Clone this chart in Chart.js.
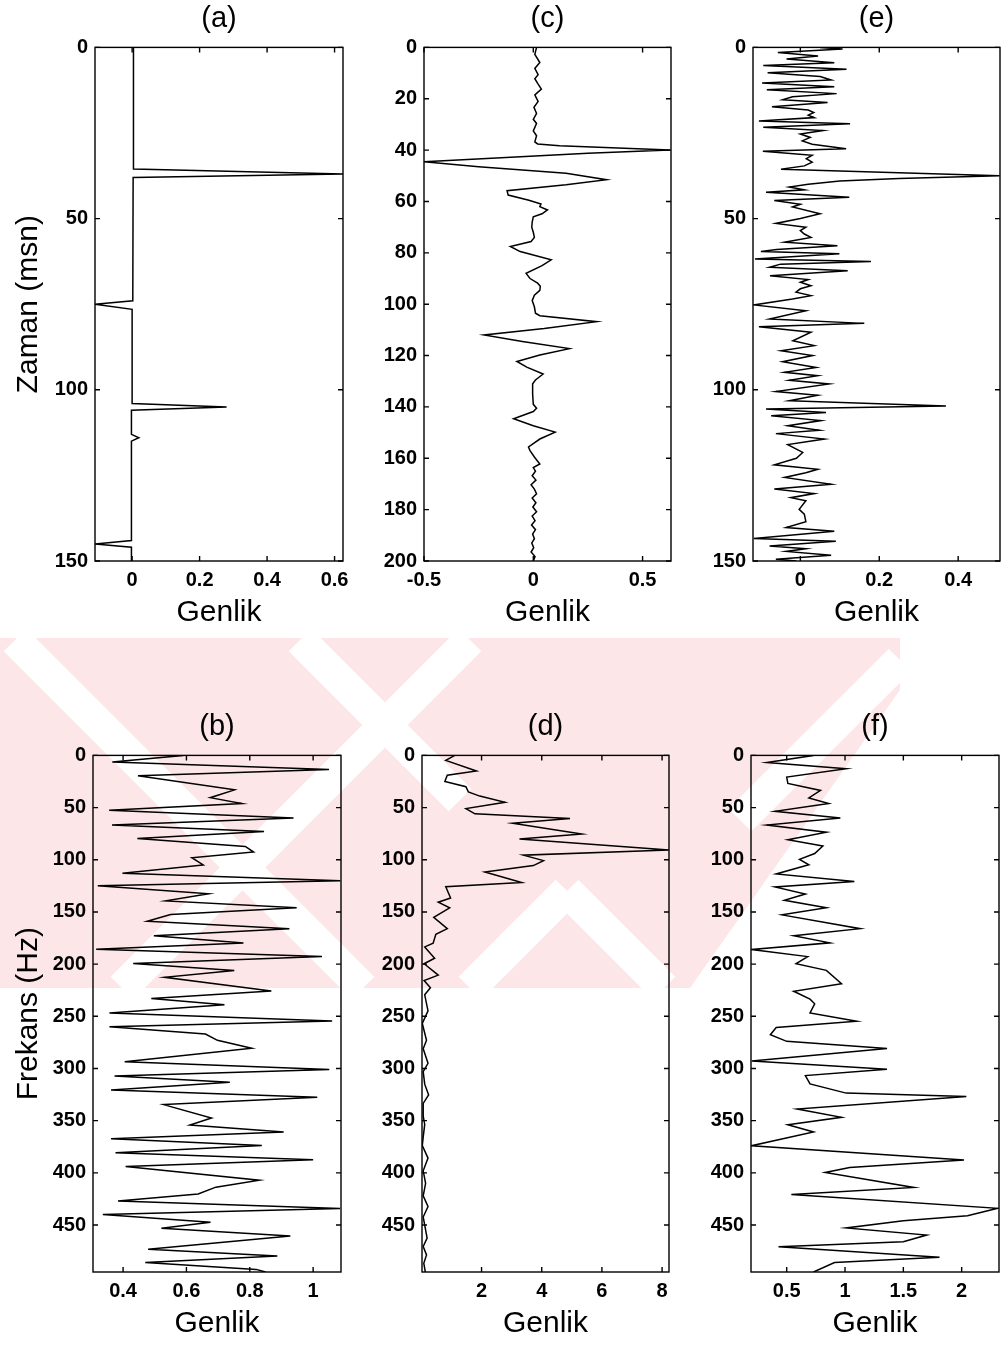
<!DOCTYPE html>
<html>
<head>
<meta charset="utf-8">
<script src="https://cdn.jsdelivr.net/npm/chart.js@4.4.1/dist/chart.umd.min.js"></script>
<style>
  body { margin: 0; background: #fff; }
  #page { position: relative; width: 1008px; height: 1346px; overflow: hidden; background: #fff; }
  #wm { position: absolute; left: 0; top: 0; }
  canvas { position: absolute; }
</style>
</head>
<body>
<div id="page">
  <svg id="wm" width="1008" height="1346">
    <defs>
      <clipPath id="wmClip"><polygon points="0,638 900,638 900,690 690,988 0,988"/></clipPath>
    </defs>
    <g clip-path="url(#wmClip)">
      <rect x="0" y="638" width="900" height="350" fill="#fce6e8"/>
      <g stroke="#fff" stroke-width="32">
        <line x1="15" y1="640" x2="363" y2="988"/>
        <line x1="470" y1="640" x2="122" y2="988"/>
        <line x1="567" y1="891" x2="470" y2="988"/>
        <line x1="567" y1="891" x2="664" y2="988"/>
        <line x1="300" y1="640" x2="460" y2="800"/>
        <line x1="900" y1="660" x2="740" y2="820"/>
      </g>
    </g>
  </svg>
  <canvas id="cA"></canvas>
  <canvas id="cC"></canvas>
  <canvas id="cE"></canvas>
  <canvas id="cB"></canvas>
  <canvas id="cD"></canvas>
  <canvas id="cF"></canvas>
</div>
<script>
// (a) yansıma katsayıları
const zamanA = [0, 35.5, 37, 38, 74, 75, 76.5, 104, 105, 106, 113, 114, 115, 144, 145, 146, 150];
const genlikA = [0.004, 0.004, 0.625, 0.003, 0.002, -0.11, 0.0, 0.0, 0.28, -0.002, -0.002, 0.02, -0.002, -0.002, -0.11, -0.002, -0.002];

// (c) dalgacık
const zamanC = [0, 2.7, 5.9, 8.2, 10.6, 12.2, 14, 16.2, 18.5, 21,
  23.3, 25.7, 28, 29.6, 32.5, 34.4, 36.8, 37.6, 38.3, 40,
  41.2, 44.5, 46.5, 49, 51.5, 53.5, 55.8, 57.5, 59.5, 61,
  62, 63.3, 64.8, 66, 68, 70, 72, 74, 75.6, 77.5,
  79.5, 82.7, 85, 88, 90, 91.8, 93, 94.6, 96.5, 98.6,
  101, 103.5, 104.5, 106.8, 109.5, 112, 114.5, 117.3, 119.8, 122.3,
  124.5, 127.2, 129.5, 131, 135, 139, 140.5, 141.8, 144.6, 147.3,
  149.8, 152.5, 155.6, 157, 159.5, 162.2, 163.6, 165, 166.8, 168.5,
  170.3, 172, 173.8, 175.5, 177.3, 179, 180.8, 182.5, 184.3, 186,
  187.8, 189.5, 191.3, 193, 194.8, 196.5, 198.3, 200];
const genlikC = [0.015, 0.007, 0.03, 0.007, 0.022, 0.007, 0.02, 0.037, 0.007, 0.022,
  0.003, 0.015, 0.0, 0.015, 0.0, 0.015, 0.007, 0.02, 0.12, 0.625,
  0.25, -0.5, -0.25, 0.15, 0.335, 0.15, -0.12, -0.115, -0.02, 0.035,
  0.03, 0.065, 0.04, 0.0, -0.005, -0.007, 0.0, 0.005, -0.01, -0.105,
  -0.06, 0.082, 0.04, -0.033, -0.015, 0.02, 0.032, 0.03, 0.005, -0.005,
  0.005, 0.01, 0.03, 0.29, 0.05, -0.225, -0.05, 0.165, 0.03, -0.075,
  -0.03, 0.045, 0.01, -0.003, -0.003, 0.0, 0.015, 0.0, -0.09, 0.0,
  0.1, 0.03, -0.022, -0.015, 0.005, 0.03, 0.0, 0.01, -0.005, 0.012,
  -0.01, 0.005, 0.015, -0.005, 0.012, -0.002, 0.015, -0.005, 0.008, -0.008,
  0.01, -0.003, 0.005, -0.007, 0.002, -0.01, 0.008, 0.0];

// (e) sismogram
const zamanE = [0, 0.5, 1.5, 2.5, 3.4, 4.5, 5.3, 6.4, 7.4, 8.5,
  9.5, 10.4, 11.5, 12.4, 13.5, 14.4, 15.3, 16.1, 17.3, 18.3,
  19.0, 19.8, 20.5, 21.5, 22.3, 23.3, 24.3, 25.3, 26.3, 27.3,
  28.3, 29.6, 30.3, 31.5, 32.5, 33.5, 34.6, 35.6, 37.5, 38.3,
  39, 40, 40.8, 41.6, 42.3, 43.8, 44.7, 45.8, 46.6, 48.6,
  50, 51.4, 52.5, 53.5, 54.5, 55.5, 56.9, 57.9, 59.0, 59.6,
  60.3, 61.8, 62.5, 63.3, 64.2, 65.2, 66.7, 67.8, 68.6, 69.6,
  70.5, 71.5, 72.5, 73.5, 75.2, 76.9, 79.3, 80.6, 81.6, 83.2,
  85.7, 87.1, 88.6, 90, 91.8, 93.5, 94.9, 95.9, 97.2, 98.3,
  100.5, 101.6, 103.2, 104.7, 105.6, 106.6, 107.6, 109, 110.5, 111.8,
  112.8, 114.4, 116, 118.3, 120, 121.9, 123.2, 124.2, 125.6, 127.6,
  129, 130.3, 131.5, 132.4, 134.9, 136.3, 138.5, 140.2, 141.3, 143.4,
  144.2, 145.6, 146.4, 147.2, 148.3, 149.5, 150];
const genlikE = [0.05, 0.107, -0.057, 0.045, -0.035, 0.086, -0.094, 0.117, -0.083, 0.05,
  0.078, -0.097, 0.086, -0.085, 0.092, -0.02, -0.045, 0.069, -0.072, 0.02,
  0.034, 0.02, 0.035, -0.105, 0.126, -0.094, 0.057, 0.0, 0.025, 0.005,
  0.03, 0.116, -0.095, 0.03, 0.015, 0.03, 0.01, -0.049, 0.505, 0.25,
  0.1, 0.02, -0.028, 0.01, -0.087, 0.124, -0.066, 0.0, -0.02, 0.05,
  0.0, -0.062, 0.014, 0.0, 0.01, 0.027, -0.04, 0.094, -0.06, -0.1,
  0.099, -0.115, 0.179, -0.05, -0.078, 0.12, -0.077, 0.02, 0.0, 0.027,
  0.0, -0.011, 0.027, -0.02, -0.118, 0.014, -0.078, 0.162, -0.105, 0.027,
  -0.019, 0.035, -0.049, 0.031, -0.045, 0.04, -0.04, 0.044, -0.028, 0.073,
  -0.062, 0.044, -0.028, 0.369, -0.087, 0.065, -0.074, 0.052, -0.032, 0.048,
  -0.062, 0.061, -0.032, 0.006, -0.01, -0.066, 0.044, 0.014, -0.04, 0.078,
  -0.066, 0.035, -0.024, 0.014, -0.003, 0.01, 0.014, -0.036, 0.086, -0.118,
  0.09, -0.078, 0.014, -0.036, 0.078, -0.062, -0.01];

// (b) genlik spektrumu
const frekansB = [0, 6.4, 13.4, 19.5, 33, 40.5, 46.2, 52.6, 60, 66.8,
  73, 79.6, 87.2, 92.6, 98, 105, 113, 120, 125, 132.6,
  139.4, 146, 152.4, 159, 166.2, 172.7, 179.7, 185.7, 192.7, 199.3,
  206, 212.6, 225.8, 233, 238.9, 246.9, 254.5, 260, 267, 273,
  280.6, 293.5, 300.9, 307.1, 313.3, 320.5, 327.5, 334.6, 347.4, 354.1,
  360.9, 367.4, 373.8, 380.7, 387.5, 393.9, 407, 413.7, 420.3, 426.9,
  434.1, 439.8, 447.3, 453, 460.5, 473.1, 479.7, 486, 492.5, 495];
const genlikB = [0.59, 0.366, 1.05, 0.447, 0.752, 0.675, 0.775, 0.356, 0.938, 0.365,
  0.845, 0.445, 0.786, 0.812, 0.617, 0.653, 0.398, 1.086, 0.32, 0.67,
  0.535, 0.948, 0.55, 0.476, 0.925, 0.497, 0.78, 0.315, 1.028, 0.432,
  0.751, 0.531, 0.868, 0.489, 0.72, 0.357, 1.06, 0.357, 0.66, 0.698,
  0.806, 0.405, 1.051, 0.373, 0.737, 0.362, 1.013, 0.528, 0.679, 0.611,
  0.907, 0.362, 0.838, 0.376, 1.0, 0.408, 0.83, 0.693, 0.637, 0.384,
  1.085, 0.336, 0.676, 0.521, 0.928, 0.479, 0.887, 0.47, 0.82, 0.85];

// (d) dalgacık spektrumu
const frekansD = [0, 4.8, 15, 19, 25, 30, 35, 39, 45, 51,
  56, 60.5, 65, 75.4, 80, 90.7, 95.6, 100.8, 105.6, 111.7,
  121.8, 125.8, 136.7, 140.7, 146, 155.2, 166, 171.4, 180, 183.5,
  194.4, 199.6, 210.5, 215.7, 222.6, 229.4, 244.8, 256.9, 273, 281,
  295, 303, 315, 325.4, 333.5, 345.6, 353.6, 365.7, 373.8, 385.9,
  398, 410, 422, 432.3, 442.3, 462.5, 470.6, 478.6, 486.7, 495];
const genlikD = [1.11, 0.81, 1.83, 0.86, 0.78, 1.48, 1.56, 1.94, 2.78, 1.48,
  1.78, 4.94, 3.03, 5.33, 3.26, 8.23, 3.39, 4.06, 3.72, 2.11,
  3.33, 0.81, 0.97, 0.56, 0.94, 0.41, 0.86, 0.48, 0.39, 0.11,
  0.44, 0.09, 0.56, 0.09, 0.3, 0.11, 0.22, 0.03, 0.17, 0.06,
  0.22, 0.06, 0.11, 0.24, 0.06, 0.06, 0.11, 0.06, 0.03, 0.22,
  0.06, 0.14, 0.06, 0.22, 0.06, 0.19, 0.06, 0.17, 0.08, 0.13];

// (f) sismogram spektrumu
const frekansF = [0, 6.8, 12.8, 20.8, 26.8, 33.6, 40.8, 46, 53.6, 60,
  66.8, 73.6, 80.8, 86.8, 94, 99.6, 104.8, 113.6, 120.8, 126,
  132.8, 138.8, 146, 152.8, 166, 172.8, 179.6, 186, 192.8, 199.6,
  206, 218.8, 226, 233.6, 238, 246.8, 254.8, 260.8, 267.6, 274,
  280.8, 292.8, 300.8, 306.8, 314.8, 323.6, 326.8, 338.8, 346.8, 354,
  360.8, 374, 387.6, 394.8, 399.6, 414, 420.8, 434, 441, 446,
  452.8, 459.6, 466, 470.8, 480.8, 486, 495];
const genlikF = [0.73, 0.33, 1.01, 0.5, 0.51, 0.79, 0.69, 0.86, 0.4, 0.96,
  0.33, 0.84, 0.51, 0.81, 0.74, 0.61, 0.69, 0.41, 1.08, 0.4,
  0.66, 0.48, 0.84, 0.46, 1.13, 0.56, 0.87, 0.2, 0.68, 0.58,
  0.84, 0.97, 0.56, 0.7, 0.74, 0.7, 1.1, 0.41, 0.36, 0.5,
  1.36, 0.2, 1.36, 0.66, 0.7, 1.01, 2.04, 0.59, 0.97, 0.51,
  0.73, 0.2, 2.02, 1.04, 0.83, 1.59, 0.54, 2.31, 2.05, 1.5,
  1.01, 1.7, 1.5, 0.43, 1.81, 0.91, 0.73];

// eksen işaretleri
const zamanTicks150 = [0, 50, 100, 150];
const zamanTicks200 = [0, 20, 40, 60, 80, 100, 120, 140, 160, 180, 200];
const frekansTicks = [0, 50, 100, 150, 200, 250, 300, 350, 400, 450];
const genlikTicksA = [0, 0.2, 0.4, 0.6];
const genlikTicksC = [-0.5, 0, 0.5];
const genlikTicksE = [0, 0.2, 0.4];
const genlikTicksB = [0.4, 0.6, 0.8, 1];
const genlikTicksD = [2, 4, 6, 8];
const genlikTicksF = [0.5, 1, 1.5, 2];

const FONT = '"Liberation Sans", Arial, sans-serif';
const TH = 44, XH = 70, RP = 22;

// kutu ve içe dönük çentikler
const frame = {
  id: 'frame',
  afterDatasetsDraw(chart) {
    const { ctx, chartArea: a, scales: { x, y } } = chart;
    const L = 5;
    ctx.save();
    ctx.strokeStyle = '#000';
    ctx.lineWidth = 1.4;
    ctx.strokeRect(a.left, a.top, a.right - a.left, a.bottom - a.top);
    ctx.beginPath();
    x.ticks.forEach(t => {
      const px = x.getPixelForValue(t.value);
      ctx.moveTo(px, a.bottom); ctx.lineTo(px, a.bottom - L);
      ctx.moveTo(px, a.top); ctx.lineTo(px, a.top + L);
    });
    y.ticks.forEach(t => {
      const py = y.getPixelForValue(t.value);
      ctx.moveTo(a.left, py); ctx.lineTo(a.left + L, py);
      ctx.moveTo(a.right, py); ctx.lineTo(a.right - L, py);
    });
    ctx.stroke();
    ctx.restore();
  }
};

function panel(id, box, p) {
  const yw = box.yw || 90;
  const cv = document.getElementById(id);
  cv.width = yw + (box.r - box.l) + RP;
  cv.height = TH + (box.b - box.t) + XH;
  cv.style.left = (box.l - yw) + 'px';
  cv.style.top = (box.t - TH) + 'px';

  const points = p.ys.map((v, i) => ({ x: p.xs[i], y: v }));
  return new Chart(cv, {
    type: 'scatter',
    data: {
      datasets: [{
        data: points,
        showLine: true,
        borderColor: '#000',
        borderWidth: 1.5,
        pointRadius: 0,
        fill: false,
        tension: 0
      }]
    },
    options: {
      responsive: false,
      animation: false,
      devicePixelRatio: 1,
      layout: { padding: { left: 0, right: RP, top: 0, bottom: 0 } },
      plugins: {
        legend: { display: false },
        tooltip: { enabled: false },
        title: {
          display: true,
          text: p.title,
          fullSize: false,
          color: '#000',
          font: { family: FONT, size: 29, weight: 'normal' },
          padding: { top: 0, bottom: 10.6 }
        }
      },
      scales: {
        x: {
          type: 'linear',
          min: p.xMin, max: p.xMax,
          afterBuildTicks: s => { s.ticks = p.xTicks.map(v => ({ value: v })); },
          afterFit: s => { s.height = XH; },
          grid: { display: false, drawTicks: false },
          border: { display: false },
          ticks: {
            color: '#000', padding: 7, maxRotation: 0, autoSkip: false,
            font: { family: FONT, size: 20, weight: 'bold' },
            callback: v => String(v)
          },
          title: {
            display: true, text: 'Genlik', color: '#000',
            font: { family: FONT, size: 30, weight: 'normal' },
            padding: { top: 0, bottom: 0 }
          }
        },
        y: {
          type: 'linear',
          reverse: true,
          min: p.yMin, max: p.yMax,
          afterBuildTicks: s => { s.ticks = p.yTicks.map(v => ({ value: v })); },
          afterFit: s => { s.width = yw; },
          grid: { display: false, drawTicks: false },
          border: { display: false },
          ticks: {
            color: '#000', padding: 7, autoSkip: false,
            font: { family: FONT, size: 20, weight: 'bold' },
            callback: v => String(v)
          },
          title: {
            display: !!p.yTitle, text: p.yTitle || '', color: '#000',
            font: { family: FONT, size: 30, weight: 'normal' },
            padding: { top: 11, bottom: 0 }
          }
        }
      }
    },
    plugins: [frame]
  });
}

panel('cA', { l: 95, t: 46, r: 343, b: 561, yw: 95 }, {
  title: '(a)', xs: genlikA, ys: zamanA, xMin: -0.11, xMax: 0.625, yMin: 0, yMax: 150,
  xTicks: genlikTicksA, yTicks: zamanTicks150, yTitle: 'Zaman (msn)'
});
panel('cC', { l: 424, t: 46, r: 671, b: 561 }, {
  title: '(c)', xs: genlikC, ys: zamanC, xMin: -0.5, xMax: 0.63, yMin: 0, yMax: 200,
  xTicks: genlikTicksC, yTicks: zamanTicks200
});
panel('cE', { l: 753, t: 46, r: 1000, b: 561 }, {
  title: '(e)', xs: genlikE, ys: zamanE, xMin: -0.12, xMax: 0.506, yMin: 0, yMax: 150,
  xTicks: genlikTicksE, yTicks: zamanTicks150
});
panel('cB', { l: 93, t: 754, r: 341, b: 1272, yw: 93 }, {
  title: '(b)', xs: genlikB, ys: frekansB, xMin: 0.305, xMax: 1.088, yMin: 0, yMax: 495,
  xTicks: genlikTicksB, yTicks: frekansTicks, yTitle: 'Frekans (Hz)'
});
panel('cD', { l: 422, t: 754, r: 669, b: 1272 }, {
  title: '(d)', xs: genlikD, ys: frekansD, xMin: 0.02, xMax: 8.23, yMin: 0, yMax: 495,
  xTicks: genlikTicksD, yTicks: frekansTicks
});
panel('cF', { l: 751, t: 754, r: 999, b: 1272 }, {
  title: '(f)', xs: genlikF, ys: frekansF, xMin: 0.194, xMax: 2.32, yMin: 0, yMax: 495,
  xTicks: genlikTicksF, yTicks: frekansTicks
});
</script>
</body>
</html>
